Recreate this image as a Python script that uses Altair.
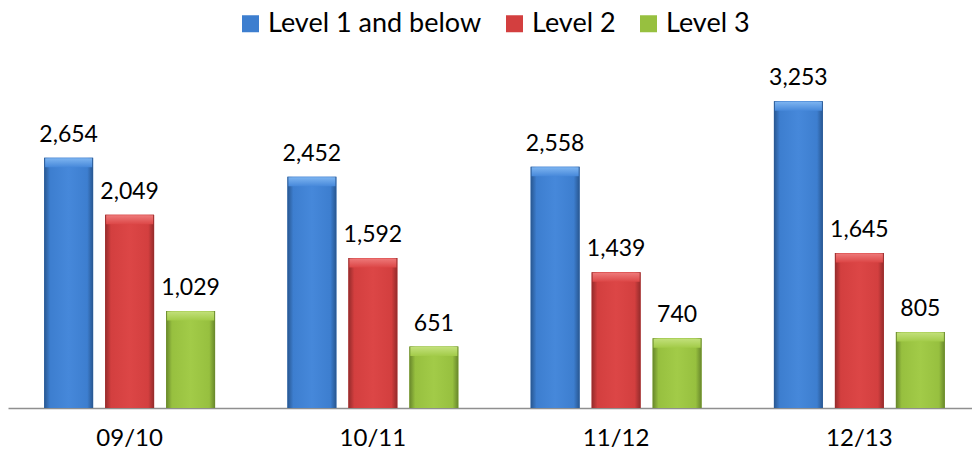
import altair as alt
import pandas as pd

years = ["09/10", "10/11", "11/12", "12/13"]
series = ["Level 1 and below", "Level 2", "Level 3"]
level1 = [2654, 2452, 2558, 3253]
level2 = [2049, 1592, 1439, 1645]
level3 = [1029, 651, 740, 805]

base_colors = ["#3D7ECF", "#D33F3F", "#97C03F"]
edge_colors = ["#28568F", "#932B2B", "#67862B"]
mid_colors = ["#4688DA", "#DC4646", "#A2CB48"]
light_colors = ["#7DB4F0", "#EE7A7A", "#C2E07A"]

rows = []
for s, vals in zip(series, [level1, level2, level3]):
    for y, v in zip(years, vals):
        rows.append({"year": y, "series": s, "value": v})
df = pd.DataFrame(rows)

FONT = "Lato"

x_enc = alt.X(
    "year:N",
    sort=years,
    scale=alt.Scale(range=[0, 973], paddingInner=0, paddingOuter=0),
    axis=alt.Axis(
        title=None, labelAngle=0, ticks=False, domainColor="#8f8f8f", domainWidth=1.5,
        labelFont=FONT, labelFontSize=24, labelColor="#000000", labelPadding=18,
    ),
)
xoff_enc = alt.XOffset(
    "series:N", sort=series, scale=alt.Scale(paddingInner=0.197, paddingOuter=0.593)
)
y_enc = alt.Y("value:Q", scale=alt.Scale(domain=[0, 3500]), axis=None)

base = alt.Chart(df).encode(x=x_enc, xOffset=xoff_enc, y=y_enc)

legend_bars = base.mark_bar().encode(
    color=alt.Color(
        "series:N",
        sort=series,
        scale=alt.Scale(domain=series, range=base_colors),
        legend=alt.Legend(
            title=None, orient="none", direction="horizontal", columns=3,
            legendX=229, legendY=-68, symbolType="square", symbolSize=289,
            symbolStrokeWidth=0, labelFont=FONT, labelFontSize=27, labelColor="#000000",
            labelOffset=4, columnPadding=19, padding=0, labelLimit=0,
        ),
    )
)

layers = [legend_bars]
for s, e, m, c, l in zip(series, edge_colors, mid_colors, base_colors, light_colors):
    grad = alt.LinearGradient(
        gradient="linear", x1=0, x2=1, y1=0, y2=0,
        stops=[
            alt.GradientStop(color=e, offset=0),
            alt.GradientStop(color=c, offset=0.12),
            alt.GradientStop(color=m, offset=0.5),
            alt.GradientStop(color=c, offset=0.88),
            alt.GradientStop(color=e, offset=1),
        ],
    )
    top_grad = alt.LinearGradient(
        gradient="linear", x1=0, x2=0, y1=0, y2=1,
        stops=[
            alt.GradientStop(color=l, offset=0),
            alt.GradientStop(color=m, offset=1),
        ],
    )
    sub = base.transform_filter(alt.datum.series == s)
    layers.append(sub.mark_bar(fill=grad))
    layers.append(sub.mark_tick(color=top_grad, thickness=9, size=47, yOffset=5, opacity=1))

labels = base.mark_text(
    font=FONT, fontSize=23, color="#000000", baseline="alphabetic", dy=-16
).encode(text=alt.Text("value:Q", format=","))
layers.append(labels)

chart = (
    alt.layer(*layers)
    .properties(
        width=964,
        height=330,
        background="white",
        autosize=alt.AutoSizeParams(type="none"),
        padding={"left": 8, "top": 78, "right": 0, "bottom": 46},
    )
    .configure_view(strokeWidth=0, stroke=None)
)

chart.save("out.html", embed_options={"renderer": "svg", "actions": False})
